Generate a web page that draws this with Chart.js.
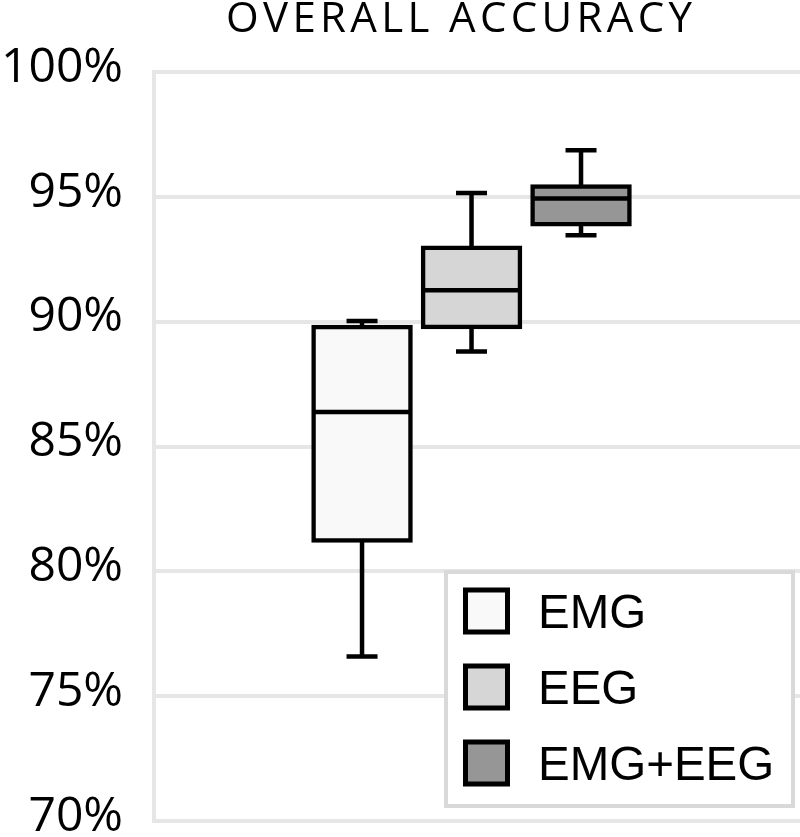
<!DOCTYPE html>
<html><head><meta charset="utf-8">
<script src="https://cdn.jsdelivr.net/npm/chart.js@4/dist/chart.umd.min.js"></script>
<style>html,body{margin:0;padding:0;background:#fff}#wrap{width:800px;height:837px}</style>
</head><body><div id="wrap"><canvas id="c" width="800" height="837"></canvas></div>
<script>
// ---- data ----
const titleText = 'OVERALL ACCURACY';
const categories = ['EMG', 'EEG', 'EMG+EEG'];
const groupIndex = [1, 2, 3];
const whiskerMin = [76.59, 88.81, 93.46];
const q1 = [81.23, 89.79, 93.90];
const median = [86.38, 91.26, 94.93];
const q3 = [89.79, 92.96, 95.41];
const whiskerMax = [90.03, 95.15, 96.87];
const yTicks = [70, 75, 80, 85, 90, 95, 100];

// ---- style ----
const fillColors = ['#f9f9f9', '#d6d6d6', '#969696'];
const gridColor = '#e6e6e6';

const boxData = groupIndex.map((x, i) => ({ x: x, y: [q1[i], q3[i]] }));

const whiskerPlugin = {
  id: 'whiskers',
  afterDatasetsDraw(chart) {
    const ctx = chart.ctx, ys = chart.scales.y;
    const meta = chart.getDatasetMeta(0);
    ctx.save();
    ctx.strokeStyle = '#000';
    ctx.lineWidth = 4.5;
    ctx.lineCap = 'butt';
    meta.data.forEach((bar, i) => {
      const p = bar.getProps(['x', 'width'], true);
      const cx = p.x, hw = p.width / 2;
      const yMed = ys.getPixelForValue(median[i]);
      const yQ1 = ys.getPixelForValue(q1[i]);
      const yQ3 = ys.getPixelForValue(q3[i]);
      const yMin = ys.getPixelForValue(whiskerMin[i]);
      const yMax = ys.getPixelForValue(whiskerMax[i]);
      ctx.beginPath();
      ctx.moveTo(cx - hw, yMed); ctx.lineTo(cx + hw, yMed);
      ctx.moveTo(cx, yQ3); ctx.lineTo(cx, yMax);
      ctx.moveTo(cx - 15.5, yMax); ctx.lineTo(cx + 15.5, yMax);
      ctx.moveTo(cx, yQ1); ctx.lineTo(cx, yMin);
      ctx.moveTo(cx - 15.5, yMin); ctx.lineTo(cx + 15.5, yMin);
      ctx.stroke();
    });
    ctx.restore();
  }
};

const decorPlugin = {
  id: 'decor',
  afterDraw(chart) {
    const ctx = chart.ctx;
    ctx.save();
    // title with letter spacing
    ctx.font = '400 42px "Open Sans", sans-serif';
    ctx.fillStyle = '#000';
    const w0 = ctx.measureText(titleText).width;
    const ls = (466 - w0) / (titleText.length - 1);
    ctx.letterSpacing = ls + 'px';
    ctx.textAlign = 'left';
    ctx.textBaseline = 'alphabetic';
    ctx.fillText(titleText, 226, 32);
    ctx.letterSpacing = '0px';
    // legend box
    ctx.fillStyle = '#fff';
    ctx.fillRect(446, 572, 347, 234);
    ctx.strokeStyle = '#d9d9d9';
    ctx.lineWidth = 4;
    ctx.strokeRect(446, 572, 347, 234);
    ctx.font = '47.5px "Liberation Sans", Arial, sans-serif';
    ctx.textBaseline = 'alphabetic';
    categories.forEach((name, i) => {
      const cy = 611 + i * 76;
      ctx.fillStyle = '#000';
      ctx.fillRect(463, cy - 23.5, 47, 47);
      ctx.fillStyle = fillColors[i];
      ctx.fillRect(468, cy - 18.5, 37, 37);
      ctx.fillStyle = '#000';
      ctx.fillText(name, 538, cy + 17);
    });
    ctx.restore();
  }
};

new Chart(document.getElementById('c'), {
  type: 'bar',
  data: {
    datasets: [{
      label: 'Overall accuracy',
      data: boxData,
      backgroundColor: fillColors,
      borderColor: '#000',
      borderWidth: 4.5,
      borderSkipped: false,
      barThickness: 97,
      inflateAmount: 2.25,
      grouped: false
    }]
  },
  options: {
    responsive: false,
    animation: false,
    devicePixelRatio: 1,
    layout: { padding: { left: 0, right: 0, top: 72, bottom: 16 } },
    plugins: { legend: { display: false }, title: { display: false }, tooltip: { enabled: false } },
    scales: {
      x: { type: 'linear', min: -0.9, max: 5.0, offset: false, display: false },
      y: {
        min: 70, max: 100,
        afterBuildTicks: s => { s.ticks = yTicks.map(v => ({ value: v })); },
        afterFit: s => { s.width = 154; s.paddingTop = 0; s.paddingBottom = 0; },
        grid: { color: gridColor, lineWidth: 4, drawTicks: false },
        border: { color: gridColor, width: 4 },
        ticks: {
          padding: 31,
          labelOffset: -4,
          color: '#000',
          font: { family: "'Open Sans', sans-serif", size: 48 },
          callback: v => v + '%'
        }
      }
    }
  },
  plugins: [whiskerPlugin, decorPlugin]
});
</script></body></html>
